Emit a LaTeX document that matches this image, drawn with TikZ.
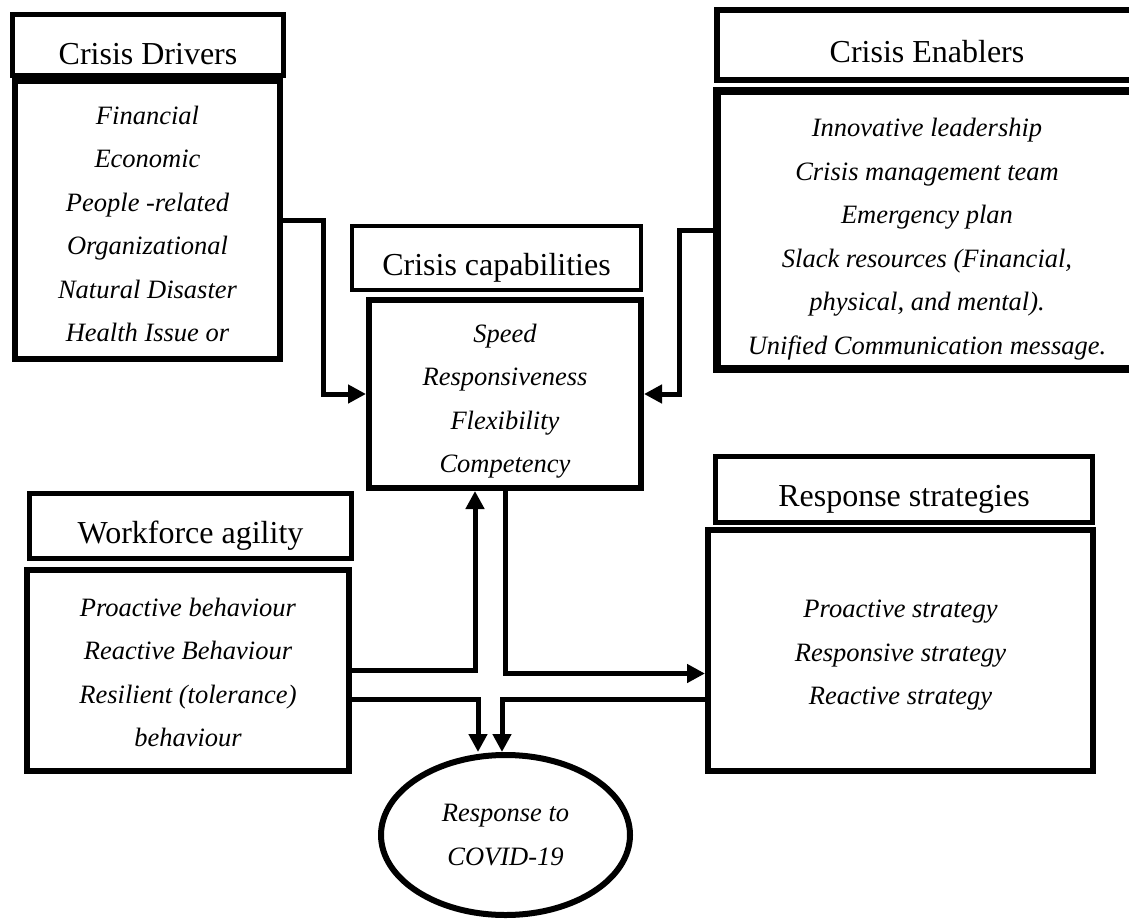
\documentclass[tikz,border=0pt]{standalone}
\usepackage{fontspec}
\setmainfont{Liberation Serif}
\usetikzlibrary{arrows.meta,shapes.geometric}

\begin{document}
\begin{tikzpicture}[
    x=1pt, y=-1pt, % one unit is one pixel of the page, y runs down
    >={Triangle[length=18pt,width=18pt]},
    line join=miter,
    title box/.style={draw, rectangle, inner sep=0pt, text height=34pt, text depth=0pt,
        font=\fontsize{32}{38}\selectfont},
    item box/.style={draw, rectangle, line width=6pt, inner sep=0pt},
    item text/.style={align=center, inner sep=0pt, font=\fontsize{26.5}{43.5}\selectfont\itshape},
    link/.style={->, line width=5pt}
]

% --- 1. PAGE FRAME ---
\useasboundingbox (0,0) rectangle (1129,920);

% --- 2. TITLE BOXES ---
\node[title box, line width=5pt, minimum width=271, minimum height=61, text height=40pt] (drvT) at (148,45) {Crisis Drivers};
\node[title box, line width=6pt, minimum width=420, minimum height=70, text height=36pt] (enbT) at (927,45) {Crisis Enablers};
\node[title box, line width=4pt, minimum width=289, minimum height=64] (capsT) at (496.5,258) {Crisis capabilities};
\node[title box, line width=5pt, minimum width=322, minimum height=65] (wfT) at (190.5,526) {Workforce agility};
\node[title box, line width=5pt, minimum width=377, minimum height=66] (rsT) at (904,489.5) {Response strategies};

% --- 3. CONTENT BOXES ---
\node[item box, minimum width=265, minimum height=278,
    label={[item text, yshift=-4pt]center:{Financial\\Economic\\People -related\\Organizational\\Natural Disaster\\Health Issue or}}]
    (drv) at (147.5,220) {};
\node[item box, line width=8pt, minimum width=420, minimum height=278,
    label={[item text, yshift=-9pt]center:{Innovative leadership\\Crisis management team\\Emergency plan\\Slack resources (Financial,\\physical, and mental).\\Unified Communication message.}}]
    (enb) at (927,230) {};
\node[item box, minimum width=272, minimum height=188,
    label={[item text, yshift=-7pt]center:{Speed\\Responsiveness\\Flexibility\\Competency}}]
    (caps) at (505,394) {};
\node[item box, minimum width=322, minimum height=201,
    label={[item text, yshift=-2pt]center:{Proactive behaviour\\Reactive Behaviour\\Resilient (tolerance)\\behaviour}}]
    (wf) at (188,670.5) {};
\node[item box, minimum width=385, minimum height=241,
    label={[item text, yshift=-5pt]center:{Proactive strategy\\Responsive strategy\\Reactive strategy}}]
    (rs) at (900.5,650.5) {};

% --- 4. OUTCOME ---
\node[item box, item text, ellipse, minimum width=249, minimum height=160] (ell) at (505.5,835)
    {Response to\\COVID-19};

% --- 5. CONNECTORS ---
% drivers and enablers feed the capabilities
\draw[link] (drv.east) -- ++(40,0) |- (caps.west);
\draw[link] (enb.west) -- ++(-34,0) |- (caps.east);

% workforce agility up to capabilities, capabilities on to strategies
\draw[link] (wf.east) -| ([xshift=-30pt]caps.south);
\draw[link] (caps.south) |- ([yshift=-23pt]rs.west);

% both sides down to the response
\draw[link] ([yshift=-28.5pt]wf.east) -| ([xshift=-27.5pt]ell.north);
\draw[link] ([yshift=-48.5pt]rs.west) -| ([xshift=-3.5pt]ell.north);

\end{tikzpicture}
\end{document}
